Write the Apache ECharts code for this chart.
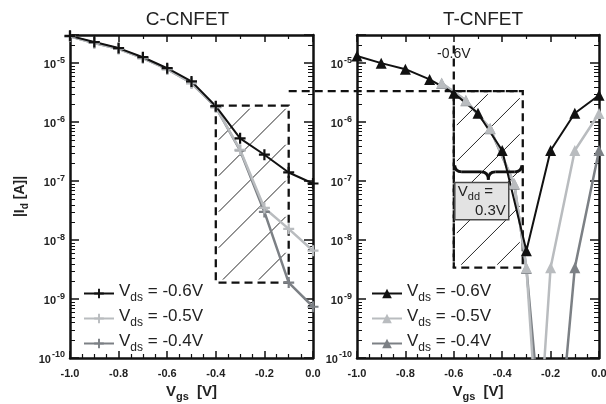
<!DOCTYPE html>
<html><head><meta charset="utf-8">
<script src="https://cdn.jsdelivr.net/npm/echarts@6/dist/echarts.min.js"></script>
<style>html,body{margin:0;padding:0;background:#fff}#c{width:606px;height:404px}</style>
</head><body><div id="c"></div><script>
// ---- data ----
const titles = ['C-CNFET', 'T-CNFET'];
const vdsLabels = ['-0.6V', '-0.5V', '-0.4V'];
const vgs = [-1.0, -0.9, -0.8, -0.7, -0.6, -0.5, -0.4, -0.3, -0.2, -0.1, 0.0];
// C-CNFET
const cVds06 = [2.9e-5, 2.28e-5, 1.8e-5, 1.26e-5, 8.2e-6, 4.9e-6, 1.86e-6, 5.3e-7, 2.8e-7, 1.4e-7, 9.1e-8];
const cVds05 = [2.85e-5, 2.2e-5, 1.75e-5, 1.22e-5, 7.9e-6, 4.6e-6, 1.8e-6, 3.4e-7, 3.5e-8, 1.55e-8, 6.6e-9];
const cVds04 = [2.85e-5, 2.2e-5, 1.75e-5, 1.22e-5, 7.9e-6, 4.6e-6, 1.8e-6, 3.3e-7, 3.0e-8, 1.9e-9, 7.4e-10];
// T-CNFET
const tVds06 = [1.32e-5, 1.0e-5, 7.9e-6, 5.3e-6, 3.1e-6, 1.41e-6, 3.3e-7, 6.6e-9, 3.3e-7, 1.41e-6, 2.86e-6];
const vgsT05 = [-0.65, -0.55, -0.45, -0.35, -0.3, -0.25, -0.2, -0.1, 0.0];
const tVds05 = [4.6e-6, 2.35e-6, 7.9e-7, 9.1e-8, 3.4e-9, 3e-12, 3.4e-9, 3.3e-7, 1.4e-6];
const vgsT04 = [-0.65, -0.55, -0.45, -0.35, -0.3, -0.2, -0.1, 0.0];
const tVds04 = [4.5e-6, 2.3e-6, 7.7e-7, 8.8e-8, 3.3e-9, 1e-13, 3.4e-9, 3.3e-7];
// log-axis minor tick multipliers and decades
const minorMult = [2, 3, 4, 5, 6, 7, 8, 9];
const decades = [-10, -9, -8, -7, -6, -5];
// annotations (data coordinates)
const cWindowX = [-0.4, -0.1], cWindowY = [1.9e-6, 1.9e-9];
const tWindowX = [-0.6, -0.315], tWindowY = [3.35e-6, 3.4e-9];
const vLineX = -0.6, vLineTop = 2.0e-5;
const vLabel = '-0.6V', vLabelY = 1.4e-5;
const braceX = [-0.6, -0.315], braceY = [1.85e-7, 1.05e-7];
const boxX = [-0.6, -0.377], boxY = [9.5e-8, 2.2e-8];
const boxText = ['V', 'dd', ' =', '0.3V'];

// ---- styles ----
const FONT = '"Liberation Sans", Arial, Helvetica, sans-serif';
const INK = '#111';
const colors = ['#111111', '#b9bcbf', '#7c8085'];
const plus = 'path://M4,0H6V4H10V6H6V10H4V6H0V4H4Z';
const pts = (xs, ys) => xs.map((x, i) => [x, ys[i]]);
const YMIN = 1e-10, YMAX = 3e-5;

function yFmt(v) {
  const e = Math.log10(v);
  if (Math.abs(e - Math.round(e)) > 1e-6) return '';
  return '{b|10}{e|' + Math.round(e) + '}';
}
const yRich = {
  b: {fontSize: 11, fontWeight: 'bold', fontFamily: FONT, color: '#222', verticalAlign: 'bottom'},
  e: {fontSize: 9, fontWeight: 'bold', fontFamily: FONT, color: '#222', verticalAlign: 'bottom', padding: [0, 0, 6, 1]}
};
function xAx(gi, pos, labels) {
  return {
    type: 'value', gridIndex: gi, position: pos, min: -1, max: 0, interval: 0.2,
    axisLine: {show: true, onZero: false, lineStyle: {color: INK, width: 2.5}},
    axisTick: {show: true, inside: true, length: 7, lineStyle: {color: INK, width: 1.5}},
    minorTick: {show: true, splitNumber: pos === 'top' ? 2 : 4, length: 4, lineStyle: {color: INK, width: 1.2}},
    splitLine: {show: false},
    axisLabel: {show: labels, margin: 10, formatter: v => v.toFixed(1), fontSize: 11, fontWeight: 'bold', fontFamily: FONT, color: '#222'},
    name: labels ? '{v|V}{s|gs}{v|  [V]}' : '', nameLocation: 'middle', nameGap: 24,
    nameTextStyle: {rich: {
      v: {fontSize: 15, fontWeight: 'bold', fontFamily: FONT, color: '#222', verticalAlign: 'bottom', padding: [0, 0, 4, 0]},
      s: {fontSize: 11, fontWeight: 'bold', fontFamily: FONT, color: '#222', verticalAlign: 'bottom'}
    }}
  };
}
function yAx(gi, pos, labels, named) {
  return {
    type: 'log', logBase: 10, gridIndex: gi, position: pos, min: YMIN, max: YMAX,
    axisLine: {show: true, onZero: false, lineStyle: {color: INK, width: 2.5}},
    axisTick: {show: true, inside: true, length: 9, lineStyle: {color: INK, width: 1.5}},
    minorTick: {show: false},
    splitLine: {show: false},
    axisLabel: {show: labels, margin: 5, formatter: yFmt, rich: yRich},
    name: named ? '{v||I}{s|d}{v| [A]|}' : '', nameLocation: 'middle', nameGap: 40, nameRotate: 90,
    nameTextStyle: {rich: {
      v: {fontSize: 14, fontWeight: 'bold', fontFamily: FONT, color: '#222', verticalAlign: 'bottom', padding: [0, 0, 3, 0]},
      s: {fontSize: 10, fontWeight: 'bold', fontFamily: FONT, color: '#222', verticalAlign: 'bottom'}
    }}
  };
}
function line(name, xi, yi, data, color, symbol, size, w) {
  return {
    name, type: 'line', xAxisIndex: xi, yAxisIndex: yi, data, symbol, symbolSize: size,
    showSymbol: true, clip: true, animation: false,
    lineStyle: {color, width: w}, itemStyle: {color, borderWidth: 0}
  };
}
const cNames = vdsLabels.map(l => 'C|' + l);
const tNames = vdsLabels.map(l => 'T|' + l);
const series = [
  line(cNames[2], 0, 0, pts(vgs, cVds04), colors[2], plus, 11, 2.5),
  line(cNames[1], 0, 0, pts(vgs, cVds05), colors[1], plus, 11, 2.5),
  line(cNames[0], 0, 0, pts(vgs, cVds06), colors[0], plus, 11, 2),
  line(tNames[2], 2, 2, pts(vgsT04, tVds04), colors[2], 'triangle', 11, 2.5),
  line(tNames[1], 2, 2, pts(vgsT05, tVds05), colors[1], 'triangle', 11, 2.5),
  line(tNames[0], 2, 2, pts(vgs, tVds06), colors[0], 'triangle', 11, 2)
];
const legRich = {
  m: {fontSize: 17, fontFamily: FONT, color: '#222', verticalAlign: 'bottom', padding: [0, 0, 4, 0]},
  s: {fontSize: 12, fontFamily: FONT, color: '#222', verticalAlign: 'bottom'}
};
const legFmt = n => '{m|V}{s|ds}{m| = ' + n.split('|')[1] + '}';
function legend(data, left) {
  return {data, left, top: 278, orient: 'vertical', itemWidth: 30, itemHeight: 12, itemGap: 4,
    formatter: legFmt, textStyle: {rich: legRich}, selectedMode: false};
}
const option = {
  animation: false,
  backgroundColor: '#fff',
  grid: [
    {left: 70, top: 35, width: 243, height: 323, outerBoundsMode: 'none', containLabel: false},
    {left: 357, top: 35, width: 242, height: 323, outerBoundsMode: 'none', containLabel: false}
  ],
  xAxis: [xAx(0, 'bottom', true), xAx(0, 'top', false), xAx(1, 'bottom', true), xAx(1, 'top', false)],
  yAxis: [yAx(0, 'left', true, true), yAx(0, 'right', false, false), yAx(1, 'left', true, false), yAx(1, 'right', false, false)],
  legend: [legend(cNames, 78), legend(tNames, 366)],
  series
};
const chart = echarts.init(document.getElementById('c'));
chart.setOption(option);

// ---- annotations positioned through the chart's own scales ----
const P = (si, x, y) => chart.convertToPixel({seriesIndex: si}, [x, y]);
const dash = {stroke: INK, lineWidth: 2.3, lineDash: [8, 5], fill: null};
const g = [];
const L = (x1, y1, x2, y2, style, z) => g.push({type: 'line', z: z || 2, shape: {x1, y1, x2, y2}, style});

// log minor ticks on both vertical sides of each panel
[2, 5].forEach(si => {
  const l = P(si, -1, YMIN)[0], r = P(si, 0, YMIN)[0];
  decades.forEach(d => minorMult.forEach(m => {
    const v = m * Math.pow(10, d);
    if (v >= YMAX) return;
    const y = Math.round(P(si, -1, v)[1]) + 0.5;
    L(l, y, l + 5, y, {stroke: INK, lineWidth: 1}, 3);
    L(r, y, r - 5, y, {stroke: INK, lineWidth: 1}, 3);
  }));
});

function hatchedWindow(si, xs, ys) {
  const a = P(si, xs[0], ys[0]), b = P(si, xs[1], ys[1]);
  const x0 = Math.min(a[0], b[0]), x1 = Math.max(a[0], b[0]);
  const y0 = Math.min(a[1], b[1]), y1 = Math.max(a[1], b[1]);
  const inset = 3, step = 36;
  const ix0 = x0 + inset, ix1 = x1 - inset, iy0 = y0 + inset, iy1 = y1 - inset;
  for (let s = x0 + y0 + 37; s < x1 + y1; s += step) {
    const xa = Math.max(ix0, s - iy1), xb = Math.min(ix1, s - iy0);
    if (xb - xa > 4) L(xa, s - xa, xb, s - xb, {stroke: INK, lineWidth: 0.9}, 1);
  }
  g.push({type: 'rect', z: 2, shape: {x: x0, y: y0, width: x1 - x0, height: y1 - y0}, style: dash});
}
hatchedWindow(2, cWindowX, cWindowY);
hatchedWindow(5, tWindowX, tWindowY);
// horizontal dashed line spanning both panels
const h0 = P(2, cWindowX[1], tWindowY[0]), h1 = P(5, tWindowX[1], tWindowY[0]);
L(h0[0], h0[1], h1[0], h1[1], dash);
// vertical dashed line at -0.6V
const v0 = P(5, vLineX, vLineTop), v1 = P(5, vLineX, tWindowY[1]);
L(v0[0], v0[1], v1[0], v1[1], dash);
const vl = P(5, vLineX, vLabelY);
g.push({type: 'text', z: 3, x: vl[0], y: vl[1], style: {text: vLabel, font: '14px ' + FONT, fill: '#222', align: 'center', verticalAlign: 'middle'}});
// brace (under-brace shape)
{
  const bA = P(5, braceX[0], braceY[0]), bB = P(5, braceX[1], braceY[1]);
  const xl = bA[0] + 1, xr = bB[0] - 1, yt = bA[1], yb = bB[1];
  const ym = yt + (yb - yt) * 0.45, xc = (xl + xr) / 2;
  const bs = {stroke: INK, lineWidth: 2.8, fill: null};
  const Q = (x1, y1, cx, cy, x2, y2) => g.push({type: 'bezierCurve', z: 4, shape: {x1, y1, cpx1: cx, cpy1: cy, x2, y2}, style: bs});
  Q(xl, yt, xl, ym, xl + 7, ym);
  L(xl + 7, ym, xc - 7, ym, bs, 4);
  Q(xc - 7, ym, xc, ym, xc, yb);
  Q(xc, yb, xc, ym, xc + 7, ym);
  L(xc + 7, ym, xr - 7, ym, bs, 4);
  Q(xr - 7, ym, xr, ym, xr, yt);
}
// Vdd box
const kA = P(5, boxX[0], boxY[0]), kB = P(5, boxX[1], boxY[1]);
g.push({type: 'rect', z: 5, shape: {x: kA[0] + 1, y: kA[1], width: kB[0] - kA[0], height: kB[1] - kA[1]}, style: {fill: '#e3e3e3', stroke: '#4a4a4a', lineWidth: 1.5}});
g.push({type: 'text', z: 6, x: kA[0] + 4, y: kA[1] + 2, style: {
  text: '{m|' + boxText[0] + '}{s|' + boxText[1] + '}{m|' + boxText[2] + '}',
  rich: {m: {fontSize: 15, fontFamily: FONT, fill: '#222', verticalAlign: 'bottom', padding: [0, 0, 3, 0]},
         s: {fontSize: 11, fontFamily: FONT, fill: '#222', verticalAlign: 'bottom'}},
  align: 'left', verticalAlign: 'top'}});
g.push({type: 'text', z: 6, x: kB[0] - 2, y: kB[1] - 2, style: {text: boxText[3], font: '15px ' + FONT, fill: '#222', align: 'right', verticalAlign: 'bottom'}});
// titles
[[2, titles[0], -4], [5, titles[1], 5]].forEach(([si, t, dx]) => {
  const p = P(si, -0.5, YMAX);
  g.push({type: 'text', z: 6, x: p[0] + dx, y: p[1] - 15, style: {text: t, font: '19px ' + FONT, fill: '#222', align: 'center', verticalAlign: 'middle'}});
});
chart.setOption({graphic: g});
</script></body></html>
